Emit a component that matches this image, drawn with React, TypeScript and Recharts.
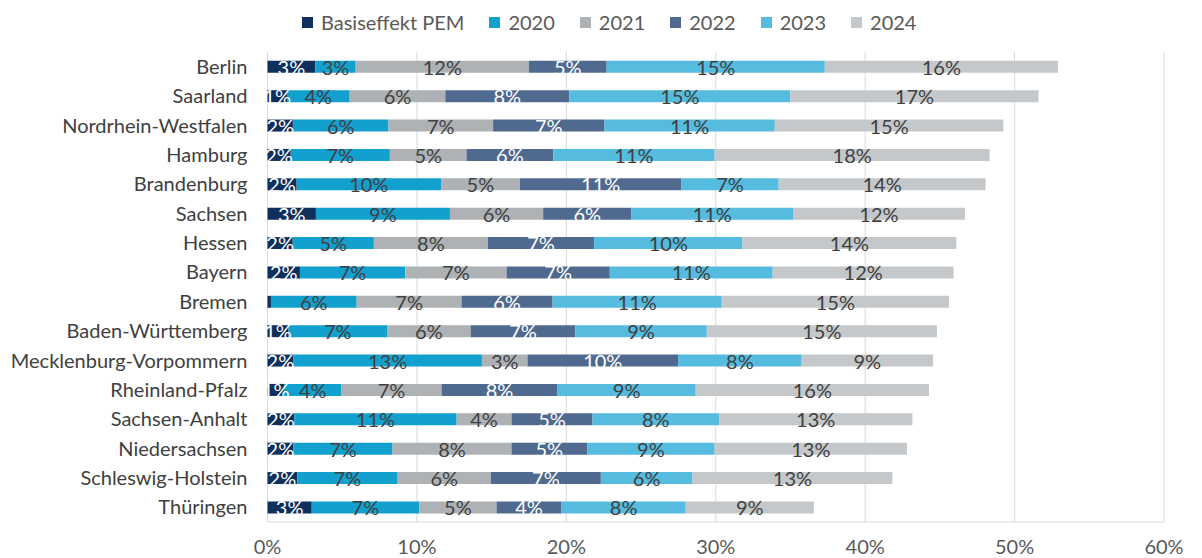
import React from "react";
import { Bar, BarChart, CartesianGrid, LabelList, XAxis, YAxis } from "recharts";

const categories = [
  "Berlin",
  "Saarland",
  "Nordrhein-Westfalen",
  "Hamburg",
  "Brandenburg",
  "Sachsen",
  "Hessen",
  "Bayern",
  "Bremen",
  "Baden-Württemberg",
  "Mecklenburg-Vorpommern",
  "Rheinland-Pfalz",
  "Sachsen-Anhalt",
  "Niedersachsen",
  "Schleswig-Holstein",
  "Thüringen",
];

// values in percent
const basiseffekt = [3.2, 1.3, 1.7, 1.55, 1.95, 3.24, 1.69, 2.17, 0.23, 1.4, 1.73, 1.1, 1.79, 1.73, 1.99, 2.96];
const y2020 = [2.7, 4.2, 6.4, 6.64, 9.66, 8.97, 5.43, 7.05, 5.74, 6.6, 12.62, 3.86, 10.87, 6.64, 6.72, 7.19];
const y2021 = [11.6, 6.4, 7.0, 5.13, 5.28, 6.24, 7.63, 6.78, 7.02, 5.6, 3.05, 6.69, 3.67, 7.96, 6.24, 5.18];
const y2022 = [5.2, 8.3, 7.45, 5.8, 10.82, 5.91, 7.11, 6.91, 6.09, 7.0, 10.08, 7.76, 5.42, 5.06, 7.36, 4.35];
const y2023 = [14.6, 14.8, 11.4, 10.81, 6.5, 10.81, 9.93, 10.9, 11.32, 8.8, 8.27, 9.25, 8.47, 8.54, 6.13, 8.31];
const y2024 = [15.6, 16.6, 15.3, 18.4, 13.85, 11.51, 14.31, 12.11, 15.21, 15.4, 8.79, 15.61, 12.94, 12.87, 13.38, 8.57];

const xTicks = [0, 10, 20, 30, 40, 50, 60];

const series = [
  { key: "basis", name: "Basiseffekt PEM", values: basiseffekt, color: "#0f2f5c", text: "#ffffff" },
  { key: "y2020", name: "2020", values: y2020, color: "#12a1cf", text: "#404040" },
  { key: "y2021", name: "2021", values: y2021, color: "#aeb2b5", text: "#404040" },
  { key: "y2022", name: "2022", values: y2022, color: "#4f6a8e", text: "#ffffff" },
  { key: "y2023", name: "2023", values: y2023, color: "#55bbdf", text: "#404040" },
  { key: "y2024", name: "2024", values: y2024, color: "#c5c8cb", text: "#404040" },
];

const data = categories.map((name, i) => {
  const row: Record<string, string | number> = { name };
  series.forEach((s) => {
    row[s.key] = s.values[i];
  });
  return row;
});

const font = "Lato, 'Open Sans', sans-serif";

// segment label, hidden for near-zero values (Bremen)
const makeLabel = (color: string) => (props: any) => {
  const { x, y, width, height, value } = props;
  const v = Number(value);
  if (!(v >= 0.5)) return null;
  return (
    <text
      x={Number(x) + Number(width) / 2}
      y={Number(y) + Number(height) / 2}
      textAnchor="middle"
      dominantBaseline="central"
      fill={color}
      fontSize={20}
      fontFamily={font}
    >
      {`${Math.round(v)}%`}
    </text>
  );
};

export default function App() {
  return (
    <div style={{ position: "relative", width: 1202, height: 558, fontFamily: font }}>
      <style>{"body{margin:0}"}</style>
      <div
        style={{
          position: "absolute",
          top: 10,
          left: 302,
          display: "flex",
          alignItems: "center",
          fontSize: 20,
          color: "#595959",
          whiteSpace: "nowrap",
        }}
      >
        {series.map((s) => (
          <div key={s.key} style={{ display: "flex", alignItems: "center", marginRight: 25 }}>
            <span style={{ width: 11, height: 11, background: s.color, marginRight: 8 }} />
            <span>{s.name}</span>
          </div>
        ))}
      </div>
      <BarChart
        width={1202}
        height={558}
        data={data}
        layout="vertical"
        barCategoryGap="30%"
        margin={{ top: 52, right: 38, bottom: 6, left: 5 }}
      >
        <CartesianGrid horizontal={false} stroke="#d9d9d9" />
        <XAxis
          type="number"
          domain={[0, 60]}
          ticks={xTicks}
          tickFormatter={(v) => `${v}%`}
          axisLine={{ stroke: "#d9d9d9" }}
          tickLine={false}
          tickMargin={12}
          height={30}
          tick={{ fill: "#595959", fontSize: 20, fontFamily: font }}
        />
        <YAxis
          type="category"
          dataKey="name"
          width={262.5}
          axisLine={false}
          tickLine={false}
          tickMargin={14}
          interval={0}
          tick={{ fill: "#404040", fontSize: 20, fontFamily: font }}
        />
        {series.map((s) => (
          <Bar key={s.key} dataKey={s.key} name={s.name} stackId="a" fill={s.color} isAnimationActive={false}>
            <LabelList dataKey={s.key} content={makeLabel(s.text)} />
          </Bar>
        ))}
      </BarChart>
    </div>
  );
}
